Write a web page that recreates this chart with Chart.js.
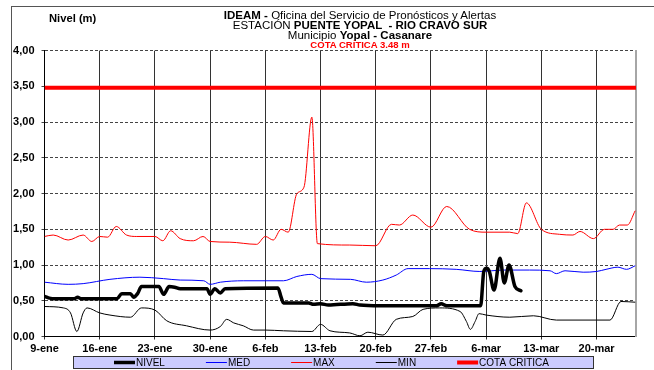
<!DOCTYPE html>
<html lang="es">
<head>
<meta charset="utf-8">
<title>Nivel Puente Yopal - Rio Cravo Sur</title>
<script src="https://cdn.jsdelivr.net/npm/chart.js@4/dist/chart.umd.min.js"></script>
<style>
  html, body { margin: 0; padding: 0; background: #fff; overflow: hidden; }
  #wrap { position: relative; width: 654px; height: 370px; font-family: "Liberation Sans", Arial, sans-serif; }
  #grafico { position: absolute; left: 0; top: 0; }
  #marco { position: absolute; left: 11px; top: 6px; width: 650px; height: 370px;
           border-top: 1px solid #555; border-left: 1px solid #555; }
  .linea { position: absolute; left: 0; width: 720px; text-align: center; white-space: pre;
           font-size: 10px; line-height: 11px; color: #000; transform: scaleX(1.15); transform-origin: 360px 0; }
  .linea b { font-weight: bold; }
  #cota { color: #ff0000; font-weight: bold; font-size: 8.3px; }
  #unidad { position: absolute; left: 49px; top: 13px; font-size: 10px; line-height: 11px; font-weight: bold;
            transform: scaleX(1.12); transform-origin: 0 0; }
</style>
</head>
<body>
<div id="wrap">
  <div id="marco"></div>
  <canvas id="grafico" width="654" height="370"></canvas>
  <div class="linea" style="top:9.5px"><b>IDEAM -</b> Oficina del Servicio de Pronósticos y Alertas</div>
  <div class="linea" style="top:19.5px">ESTACIÓN <b>PUENTE YOPAL  - RIO CRAVO SUR</b></div>
  <div class="linea" style="top:30px">Municipio <b>Yopal - Casanare</b></div>
  <div class="linea" id="cota" style="top:39.5px">COTA CRÍTICA 3.48 m</div>
  <div id="unidad">Nivel (m)</div>
</div>
<script>
// ── datos (día 0 = 9-ene) ─────────────────────────────────────────────────
const etiquetasFecha = ['9-ene', '16-ene', '23-ene', '30-ene', '6-feb', '13-feb',
                        '20-feb', '27-feb', '6-mar', '13-mar', '20-mar'];
const diaFinal = 75;
const cotaCritica = 3.48;

const nivelDias    = [0, 0.5, 1, 3.8, 4.2, 4.6, 9.2, 9.8, 10.9, 11.3, 11.8, 12.3, 14.5, 15.1, 15.8, 16.5, 17.2,
                      20.6, 21.0, 21.6, 22.3, 22.9, 29.6, 30.0, 30.3, 33.5, 34.1, 35, 36, 39.1, 40, 42.5,
                      49.7, 50.3, 51, 55.3, 55.7, 56.07, 56.4, 57.0, 57.75, 58.3, 58.9, 59.65, 60.4];
const nivelValores = [0.56, 0.54, 0.53, 0.53, 0.55, 0.53, 0.53, 0.60, 0.60, 0.55, 0.60, 0.70, 0.70, 0.59, 0.70, 0.69, 0.67,
                      0.67, 0.59, 0.67, 0.61, 0.67, 0.68, 0.55, 0.47, 0.47, 0.45, 0.46, 0.44, 0.46, 0.44, 0.43,
                      0.43, 0.46, 0.43, 0.43, 0.91, 0.955, 0.91, 0.65, 1.095, 0.75, 1.0, 0.70, 0.64];

const medDias    = [0, 3, 4.9, 8.3, 12.1, 15.1, 17.2, 20.2, 21, 22.3, 25.2, 28, 30.3, 32, 33.9, 35, 38.8, 40.8,
                    42.9, 44.6, 46.1, 48.8, 52.2, 55.2, 58.1, 61.5, 64.1, 64.9, 66, 68.3, 70, 71.2, 72.7, 73.8, 74.9];
const medValores = [0.76, 0.73, 0.74, 0.80, 0.83, 0.81, 0.79, 0.78, 0.73, 0.76, 0.78, 0.78, 0.78, 0.84, 0.87, 0.81, 0.80, 0.76,
                    0.79, 0.86, 0.95, 0.95, 0.94, 0.91, 0.93, 0.93, 0.92, 0.88, 0.92, 0.90, 0.91, 0.94, 0.97, 0.94, 0.99];

const maxDias    = [0, 1.1, 3.0, 4.9, 6.0, 7.0, 8.0, 9.1, 10.4, 11.7, 14, 15, 16, 17.2, 18.9, 20.1, 21, 23.5, 26.9,
                    28, 29, 30, 30.9, 32, 32.9, 33.9, 34.6, 38.7, 42, 44, 45, 46.7, 49, 51, 53.9, 56, 59, 60,
                    61.1, 63, 65.3, 67, 67.9, 69.6, 71, 72.1, 72.9, 73.9, 74.9];
const maxValores = [1.40, 1.42, 1.35, 1.42, 1.33, 1.40, 1.39, 1.54, 1.42, 1.40, 1.40, 1.34, 1.48, 1.37, 1.34, 1.40, 1.33, 1.32, 1.29,
                    1.40, 1.35, 1.50, 1.46, 2.00, 2.09, 3.07, 1.30, 1.28, 1.27, 1.57, 1.56, 1.70, 1.53, 1.82, 1.50, 1.46, 1.46, 1.44,
                    1.87, 1.50, 1.43, 1.42, 1.47, 1.37, 1.50, 1.50, 1.56, 1.56, 1.76];

const minDias    = [0, 2.4, 3.3, 4.1, 4.9, 5.4, 7, 8.3, 10.9, 12.3, 14, 15.5, 18, 21, 22.3, 23.1, 24, 25.2, 26.5, 28,
                    30.3, 33.9, 35, 36.2, 38.7, 40, 41, 42.9, 44.6, 46.7, 48, 50.1, 52.7, 53.5, 54, 54.6, 55.1, 56,
                    59, 62, 64.9, 70, 71.7, 73.1, 74.9];
const minValores = [0.42, 0.40, 0.33, 0.07, 0.33, 0.40, 0.33, 0.30, 0.27, 0.40, 0.37, 0.22, 0.15, 0.09, 0.14, 0.24, 0.19, 0.15, 0.09, 0.09,
                    0.08, 0.07, 0.17, 0.08, 0.05, 0.01, 0.06, 0.02, 0.24, 0.28, 0.38, 0.40, 0.35, 0.21, 0.10, 0.21, 0.32, 0.30,
                    0.27, 0.29, 0.23, 0.23, 0.23, 0.49, 0.48];

const puntos = (dias, valores) => dias.map((d, i) => ({ x: d, y: valores[i] }));

const FUENTE = '"Liberation Sans", Arial, sans-serif';

// leyenda en caja lila, como la original
const leyendaCaja = {
  id: 'leyendaCaja',
  afterDraw(chart) {
    const ctx = chart.ctx;
    ctx.save();
    ctx.fillStyle = '#ccccff';
    ctx.fillRect(73.5, 356.5, 520, 12);
    ctx.strokeStyle = '#333';
    ctx.lineWidth = 1;
    ctx.strokeRect(73.5, 356.5, 520, 12);
    ctx.font = '10px ' + FUENTE;
    ctx.textBaseline = 'middle';
    const y = 362.5;
    let x = 114;
    chart.data.datasets.forEach(ds => {
      ctx.strokeStyle = ds.borderColor;
      ctx.lineWidth = ds.borderWidth;
      ctx.beginPath();
      ctx.moveTo(x, y);
      ctx.lineTo(x + 21, y);
      ctx.stroke();
      ctx.fillStyle = '#000';
      ctx.fillText(ds.label, x + 22, y + 0.5);
      x += 22 + ctx.measureText(ds.label).width + 41;
    });
    ctx.restore();
  },
};

new Chart(document.getElementById('grafico'), {
  type: 'line',
  data: {
    datasets: [
      { label: 'NIVEL', data: puntos(nivelDias, nivelValores), borderColor: '#000000', borderWidth: 3.5,
        borderJoinStyle: 'round', borderCapStyle: 'round' },
      { label: 'MED', data: puntos(medDias, medValores), borderColor: '#0000ff', borderWidth: 1 },
      { label: 'MAX', data: puntos(maxDias, maxValores), borderColor: '#ff0000', borderWidth: 1 },
      { label: 'MIN', data: puntos(minDias, minValores), borderColor: '#000000', borderWidth: 1 },
      { label: 'COTA CRITICA', data: [{ x: 0, y: cotaCritica }, { x: diaFinal, y: cotaCritica }],
        borderColor: '#ff0000', borderWidth: 4, cubicInterpolationMode: 'default', tension: 0 },
    ],
  },
  options: {
    responsive: false,
    devicePixelRatio: 1,
    animation: false,
    layout: { padding: { top: 50.7, left: 10, right: 18, bottom: 0 } },
    elements: { point: { radius: 0 }, line: { cubicInterpolationMode: 'monotone', fill: false } },
    plugins: { legend: { display: false }, tooltip: { enabled: false }, title: { display: false } },
    scales: {
      x: {
        type: 'linear', min: 0, max: diaFinal,
        afterFit: s => { s.height = 33.5; },
        ticks: {
          stepSize: 7, includeBounds: false, autoSkip: false, maxRotation: 0, padding: 3,
          color: '#000', font: { family: FUENTE, size: 11, weight: 'bold' },
          callback: v => etiquetasFecha[v / 7],
        },
        grid: { color: '#333', lineWidth: 1, tickLength: 3 },
        border: { color: '#000', width: 1 },
      },
      y: {
        min: 0, max: 4,
        afterFit: s => { s.width = 34.5; },
        ticks: {
          stepSize: 0.5, padding: 7, color: '#000',
          font: { family: FUENTE, size: 11, weight: 'bold' },
          callback: v => v.toFixed(2).replace('.', ','),
        },
        grid: { color: '#444', lineWidth: 1, tickLength: 3 },
        border: { color: '#000', width: 1, dash: [3, 2] },
      },
      y2: {
        position: 'right', min: 0, max: 4,
        afterFit: s => { s.width = 0; },
        ticks: { display: false },
        grid: { display: false },
        border: { color: '#a6a6a6', width: 2 },
      },
    },
  },
  plugins: [leyendaCaja],
});
</script>
</body>
</html>
